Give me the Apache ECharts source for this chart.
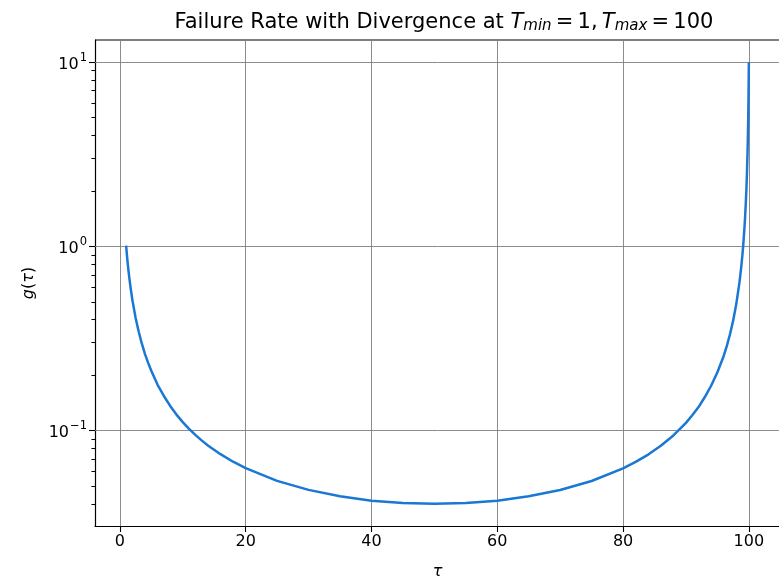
<!DOCTYPE html>
<html><head><meta charset="utf-8">
<script src="https://cdn.jsdelivr.net/npm/echarts@6/dist/echarts.min.js"></script>
<style>html,body{margin:0;padding:0;background:#fff}#c{width:779px;height:579px}</style>
</head><body><div id="c"></div>
<script>
// Data
var tau = [1, 1.1, 1.2, 1.3, 1.5, 1.75, 2, 2.5, 3, 3.5, 4, 4.5, 5, 6, 7, 8, 9, 10, 11, 12, 13, 14, 16, 18, 20, 25, 30, 35, 40, 45, 50, 55, 60, 65, 70, 75, 80, 82, 84, 86, 88, 90, 91, 92, 93, 94, 95, 96, 96.5, 97, 97.5, 98, 98.5, 98.8, 99, 99.1, 99.3, 99.4, 99.5, 99.6, 99.7, 99.8, 99.85, 99.9, 99.95, 100];
var gValues = [1.01, 0.919, 0.843, 0.779, 0.677, 0.582, 0.510, 0.410, 0.344, 0.296, 0.260, 0.233, 0.211, 0.177, 0.154, 0.136, 0.122, 0.111, 0.102, 0.0947, 0.0884, 0.0830, 0.0744, 0.0677, 0.0625, 0.0533, 0.0476, 0.0439, 0.0416, 0.0404, 0.0400, 0.0404, 0.0416, 0.0439, 0.0475, 0.0532, 0.0623, 0.0675, 0.0740, 0.0826, 0.0940, 0.110, 0.121, 0.134, 0.152, 0.175, 0.207, 0.254, 0.288, 0.333, 0.395, 0.486, 0.635, 0.779, 0.919, 1.01, 1.26, 1.44, 1.68, 2.01, 2.51, 3.34, 4.01, 5.01, 6.67, 10.0];
var xTicks = [0, 20, 40, 60, 80, 100];
var yTicks = [0.1, 1, 10];
var yTickExps = ['\u22121', '0', '1'];
var yMinorTicks = [0.04, 0.05, 0.06, 0.07, 0.08, 0.09, 0.2, 0.3, 0.4, 0.5, 0.6, 0.7, 0.8, 0.9, 2, 3, 4, 5, 6, 7, 8, 9];
var xRange = [-3.95, 104.95];
var yRange = [0.0303, 13.2];

var font = 'DejaVu Sans';
var points = tau.map(function (t, i) { return [t, gValues[i]]; });
var gridLineStyle = { color: '#7f7f7f', width: 0.9, type: 'solid' };

var option = {
  animation: false,
  backgroundColor: '#fff',
  title: {
    text: 'Failure Rate with Divergence at {i|T}{s|min}{n|\u2009=\u20091,\u2009}{i|T}{s|max}{n|\u2009=\u2009100}',
    left: 439, top: 7, textAlign: 'center',
    textStyle: {
      fontFamily: font, fontSize: 21, fontWeight: 'normal', color: '#000',
      rich: {
        i: { fontFamily: font, fontSize: 21, fontStyle: 'italic', color: '#000' },
        s: { fontFamily: font, fontSize: 15, fontStyle: 'italic', color: '#000', verticalAlign: 'bottom', padding: [7, 0, 0, 0] },
        n: { fontFamily: font, fontSize: 21, color: '#000' }
      }
    }
  },
  grid: { left: 95, right: -1, top: 40, bottom: 53, containLabel: false, outerBoundsMode: 'none' },
  xAxis: {
    type: 'value', min: xRange[0], max: xRange[1],
    name: '\u03c4', nameLocation: 'middle', nameGap: 38,
    nameTextStyle: { fontFamily: font, fontSize: 16, fontStyle: 'italic', color: '#000' },
    axisLine: { show: true, onZero: false, lineStyle: { color: '#000', width: 1.2 } },
    axisTick: { show: true, customValues: xTicks, length: 6, lineStyle: { color: '#000', width: 1.1 } },
    axisLabel: { customValues: xTicks, fontFamily: font, fontSize: 16, color: '#000', margin: 8 },
    splitLine: { show: false }
  },
  yAxis: [{
    type: 'log', logBase: 10, min: yRange[0], max: yRange[1],
    name: '{i|g}{n|(}{i|\u03c4}{n|)}', nameLocation: 'middle', nameGap: 58, nameRotate: 90,
    nameTextStyle: {
      fontFamily: font, fontSize: 16, color: '#000',
      rich: { i: { fontFamily: font, fontSize: 16, fontStyle: 'italic', color: '#000' }, n: { fontFamily: font, fontSize: 16, color: '#000' } }
    },
    axisLine: { show: true, onZero: false, lineStyle: { color: '#000', width: 1.2 } },
    axisTick: { show: true, customValues: yTicks, length: 6, lineStyle: { color: '#000', width: 1.1 } },
    axisLabel: {
      customValues: yTicks, margin: 8, color: '#000',
      formatter: function (v) {
        var idx = yTicks.findIndex(function (t) { return Math.abs(t - v) / t < 1e-6; });
        return '{b|10}{e|' + (idx >= 0 ? yTickExps[idx] : '') + '}';
      },
      rich: {
        b: { fontFamily: font, fontSize: 16, color: '#000', verticalAlign: 'bottom' },
        e: { fontFamily: font, fontSize: 11.5, color: '#000', verticalAlign: 'bottom', padding: [0, 0, 9, 1] }
      }
    },
    splitLine: { show: false }
  }, {
    type: 'log', logBase: 10, min: yRange[0], max: yRange[1], position: 'left',
    axisLine: { show: false, onZero: false },
    axisTick: { show: true, customValues: yMinorTicks, length: 3.5, lineStyle: { color: '#000', width: 1 } },
    axisLabel: { show: false },
    splitLine: { show: false }
  }],
  series: [{
    type: 'line', data: points, showSymbol: false, smooth: false,
    lineStyle: { color: '#1a78d4', width: 2.5 }, z: 3,
    markLine: {
      silent: true, symbol: ['none', 'none'], label: { show: false },
      lineStyle: gridLineStyle, z: 1,
      data: xTicks.map(function (v) { return { xAxis: v }; }).concat(yTicks.map(function (v) { return { yAxis: v }; }))
    }
  }]
};
var chart = echarts.init(document.getElementById('c'), null, { renderer: 'canvas' });
chart.setOption(option);
// top border spine
chart.setOption({ graphic: [{ type: 'line', shape: { x1: 95, y1: 40, x2: 779, y2: 40 }, style: { stroke: '#000', lineWidth: 1.2 } }] });
</script></body></html>
